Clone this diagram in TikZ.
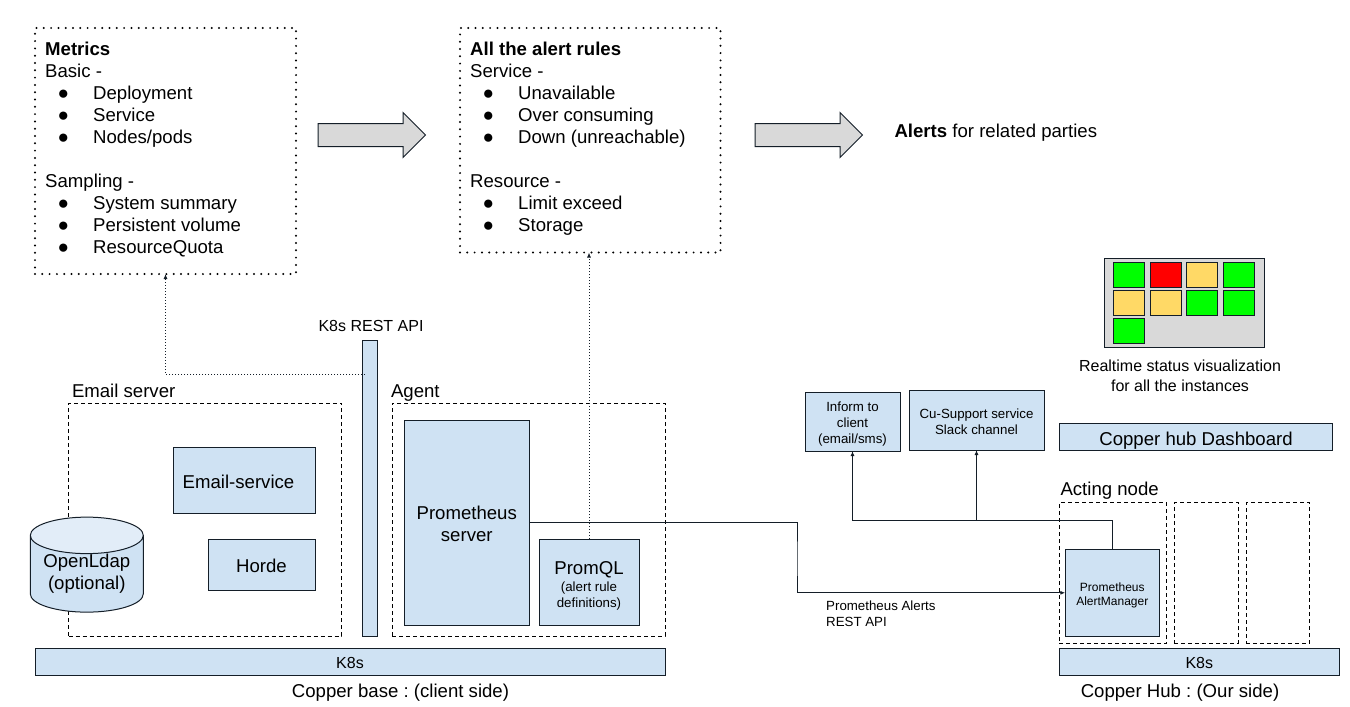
\documentclass[tikz,border=0pt]{standalone}
\usepackage{fontspec}
\setmainfont{Liberation Sans}
\usetikzlibrary{shapes.geometric, shapes.arrows, arrows.meta}
\definecolor{boxblue}{RGB}{207,226,243}
\definecolor{cylblue}{RGB}{226,237,248}
\definecolor{edgecol}{RGB}{20,30,40}
\definecolor{panelgray}{RGB}{217,217,217}
\definecolor{statusgreen}{RGB}{0,255,0}
\definecolor{statusred}{RGB}{255,0,0}
\definecolor{statusamber}{RGB}{255,217,102}
\frenchspacing
\newcommand{\bulletitem}[1]{\makebox[48pt][l]{\hspace*{12.5pt}\fontsize{19}{22}\selectfont ●}#1}
\newcommand{\firstline}[1]{\rule{0pt}{#1pt}}
\tikzset{
    fontL/.style={font=\fontsize{18.6}{22}\selectfont},
    fontM/.style={font=\fontsize{16}{20}\selectfont},
    fontS/.style={font=\fontsize{13.3}{16}\selectfont},
    bluebox/.style={draw=edgecol, fill=boxblue, line width=1pt, inner sep=0pt, outer sep=0pt, align=center, anchor=north west, execute at begin node=\rule{0pt}{.9em}},
    nodebox/.style={draw=black, dash pattern=on 4pt off 3pt, line width=1pt, inner sep=0pt, outer sep=0pt, anchor=north west},
    notebox/.style={draw=black, line width=2.2pt, line cap=round, dash pattern=on 0pt off 7.3pt, inner sep=0pt, outer sep=0pt, anchor=north west},
    fatarrow/.style={shape=single arrow, draw=edgecol, fill=panelgray, line width=1pt, single arrow head extend=11pt, single arrow tip angle=90, single arrow head indent=0pt, minimum height=107.5pt, inner sep=0pt, outer sep=0pt},
    cell/.style={draw=edgecol, line width=0.8pt, minimum width=31pt, minimum height=25pt, inner sep=0pt, outer sep=0pt, anchor=north west},
    caption/.style={fontL, inner sep=0pt, outer sep=0pt},
    wire/.style={draw=edgecol, line width=1pt},
    tap/.style={draw=edgecol, line width=0.8pt, dash pattern=on 1pt off 2pt}
}
\begin{document}
\begin{tikzpicture}[x=1pt, y=-1pt]
    \useasboundingbox (0,0) rectangle (1350,707);

    % Top notes
    \node[notebox, minimum width=261pt, minimum height=246pt] (metricsbox) at (35,28) {};
    \node[fontL, align=left, anchor=north west, inner sep=0pt] (metricstext) at (45,42) {\textbf{Metrics}\\Basic -\\\bulletitem{Deployment}\\\bulletitem{Service}\\\bulletitem{Nodes/pods}\\[22pt]Sampling -\\\bulletitem{System summary}\\\bulletitem{Persistent volume}\\\bulletitem{ResourceQuota}};
    \node[notebox, minimum width=260.5pt, minimum height=224.5pt] (rulesbox) at (460,28) {};
    \node[fontL, align=left, anchor=north west, inner sep=0pt] (rulestext) at (470,42) {\textbf{All the alert rules}\\Service -\\\bulletitem{Unavailable}\\\bulletitem{Over consuming}\\\bulletitem{Down (unreachable)}\\[22pt]Resource -\\\bulletitem{Limit exceed}\\\bulletitem{Storage}};
    \node[fatarrow] (arrowone) at (366,135) {\rule{0pt}{22pt}};
    \node[fatarrow] (arrowtwo) at (803,135) {\rule{0pt}{22pt}};
    \node[caption, anchor=west] (alertstext) at (894.5,133) {\textbf{Alerts} for related parties};

    % Copper base
    \node[nodebox, minimum width=273pt, minimum height=233pt] (emailbox) at (68.5,403) {};
    \node[caption, anchor=west] (emaillabel) at (72,391) {Email server};
    \node[bluebox, fontL, minimum width=142pt, minimum height=66pt] (emailsvc) at (173,447) {Email-service\hspace*{11pt}};
    \node[bluebox, fontL, minimum width=107pt, minimum height=51pt] (horde) at (208,539) {Horde};
    \node[shape=cylinder, shape border rotate=90, aspect=0.42, draw=edgecol, line width=1pt, cylinder uses custom fill, cylinder body fill=boxblue, cylinder end fill=cylblue, minimum width=113pt, minimum height=95pt, inner sep=0pt, outer sep=0pt, align=center, fontL] (openldap) at (86.8,574) {OpenLdap\\(optional)};
    \node[bluebox, minimum width=15.5pt, minimum height=296pt] (restbar) at (362,340) {};
    \node[fontM, inner sep=0pt] (restlabel) at (371,326) {K8s REST API};
    \node[nodebox, minimum width=273pt, minimum height=233pt] (agentbox) at (392,403) {};
    \node[caption, anchor=west] (agentlabel) at (391,393) {Agent};
    \node[bluebox, fontL, minimum width=125.5pt, minimum height=205.5pt] (promserver) at (404,420) {\firstline{15.5}Prometheus\\server};
    \node[bluebox, fontS, minimum width=100pt, minimum height=86.5pt] (promql) at (539,539) {\fontsize{18.6}{22}\selectfont\firstline{19.5}PromQL\\[1pt]\fontsize{13.3}{16}\selectfont (alert rule\\\fontsize{13.3}{16}\selectfont definitions)};
    \node[bluebox, fontM, minimum width=630pt, minimum height=27pt] (k8sbase) at (35,648) {K8s};
    \node[caption] (baselabel) at (400.5,693) {Copper base : (client side)};

    % Copper hub
    \node[draw=edgecol, fill=panelgray, line width=1pt, minimum width=160pt, minimum height=89pt, inner sep=0pt, outer sep=0pt, anchor=north west] (statuspanel) at (1104,258) {};
    \node[cell, fill=statusgreen] (cellA) at (1113,262) {};
    \node[cell, fill=statusred] (cellB) at (1150,262) {};
    \node[cell, fill=statusamber] (cellC) at (1186,262) {};
    \node[cell, fill=statusgreen] (cellD) at (1223,262) {};
    \node[cell, fill=statusamber] (cellE) at (1113,290) {};
    \node[cell, fill=statusamber] (cellF) at (1150,290) {};
    \node[cell, fill=statusgreen] (cellG) at (1186,290) {};
    \node[cell, fill=statusgreen] (cellH) at (1223,290) {};
    \node[cell, fill=statusgreen] (cellI) at (1113,318) {};
    \node[fontM, align=center, inner sep=0pt] (statuslabel) at (1180,376) {Realtime status visualization\\for all the instances};
    \node[bluebox, fontS, minimum width=95pt, minimum height=59pt] (inform) at (805,392) {\firstline{14}Inform to\\client\\(email/sms)};
    \node[bluebox, fontS, minimum width=135pt, minimum height=60pt] (cusupport) at (909,390) {\firstline{14}Cu-Support service\\Slack channel};
    \node[bluebox, fontL, minimum width=273.5pt, minimum height=27pt] (dashboard) at (1059.3,423.3) {\firstline{20.5}Copper hub Dashboard};
    \node[caption, anchor=west] (actinglabel) at (1060.5,491) {Acting node};
    \node[nodebox, minimum width=107.4pt, minimum height=140.6pt] (actingbox) at (1059.3,502.7) {};
    \node[nodebox, minimum width=64pt, minimum height=140.6pt] (spareone) at (1174.3,502.7) {};
    \node[nodebox, minimum width=63.4pt, minimum height=140.6pt] (sparetwo) at (1246.3,502.7) {};
    \node[bluebox, minimum width=94pt, minimum height=87pt, font=\fontsize{12}{14}\selectfont] (alertmgr) at (1065.3,549.3) {\firstline{14}Prometheus\\AlertManager};
    \node[bluebox, fontM, minimum width=280pt, minimum height=27pt] (k8shub) at (1059.3,648.3) {K8s};
    \node[caption] (hublabel) at (1180,693) {Copper Hub : (Our side)};
    \node[fontS, align=left, inner sep=0pt, anchor=west] (alertapi) at (826,614) {Prometheus Alerts\\REST API};

    % Connectors
    \coordinate (restend) at (365,374);
    \coordinate (alertbend) at (797,560);
    \coordinate (hubbus) at (976.5,520.3);
    \draw[tap, -{Latex[length=5pt,width=4pt]}] (restend) -| (metricsbox.south);
    \draw[tap, -{Latex[length=5pt,width=4pt]}] (promql.north) -- (promql.north |- rulesbox.south);
    \draw[wire, -{Latex[length=5pt,width=4pt]}] (promserver.east) -| (alertbend) |- (alertmgr.west);
    \draw[wire, -{Latex[length=5pt,width=4pt]}] (alertmgr.north) |- (hubbus) -| (inform.south);
    \draw[wire, -{Latex[length=5pt,width=4pt]}] (hubbus) -- (cusupport.south);
\end{tikzpicture}
\end{document}
